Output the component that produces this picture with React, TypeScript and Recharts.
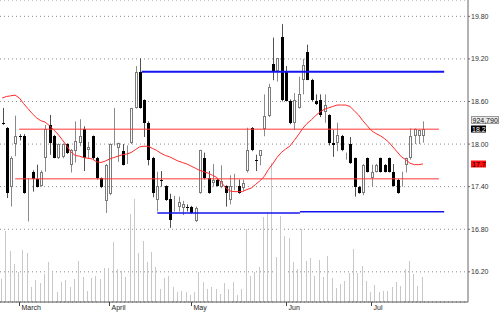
import { ComposedChart, Bar, Line, XAxis, YAxis, CartesianGrid, ReferenceLine } from 'recharts';

const FONT = '"Liberation Sans", Arial, sans-serif';
const SLOTS = 109;

const opens = [
  18.3, 18.22, 17.4, 18.0, 18.12, 18.12, 17.22, 17.61, 17.51, 17.41,
  17.81, 18.27, 18.12, 17.81, 17.82, 18.0, 17.71, 17.9, 18.02, 18.21,
  17.92, 18.11, 17.8, 17.52, 17.2, 17.3, 18.01, 17.95, 17.9, 17.84,
  18.01, 18.51, 19.02, 18.62, 18.3, 17.81, 17.21, 17.5, 17.41, 17.22,
  17.12, 17.12, 17.1, 17.12, 17.12, 16.91, 17.31, 17.81, 17.52, 17.45,
  17.5, 17.4, 17.41, 17.21, 17.45, 17.41, 17.38, 17.62, 18.23, 17.77,
  17.83, 18.21, 18.4, 19.13, 19.03, 19.51, 19.02, 18.61, 18.3, 18.51,
  18.9, 19.3, 18.9, 18.6, 18.62, 18.45, 18.41, 18.02, 18.01, 18.12,
  17.82, 18.0, 17.8, 17.4, 17.31, 17.8, 17.52, 17.61, 17.8, 17.71,
  17.8, 17.61, 17.5, 17.41, 17.71, 17.8, 18.12, 18.12, 18.12,
];
const highs = [
  18.51, 18.24, 17.83, 18.4, 18.14, 18.14, 17.52, 17.63, 17.71, 17.63,
  18.27, 18.41, 18.13, 18.01, 18.01, 18.01, 17.93, 18.32, 18.35, 18.25,
  18.03, 18.12, 17.82, 17.53, 17.72, 18.01, 18.51, 18.02, 18.0, 17.98,
  18.51, 19.1, 19.21, 18.63, 18.32, 17.82, 17.61, 17.62, 17.42, 17.3,
  17.27, 17.26, 17.2, 17.15, 17.13, 17.12, 17.92, 17.88, 17.62, 17.72,
  17.52, 17.7, 17.42, 17.56, 17.58, 17.5, 17.5, 18.23, 18.24, 17.85,
  17.9, 18.7, 18.85, 19.5, 19.21, 19.69, 19.1, 18.63, 18.72, 18.95,
  19.2, 19.4, 18.92, 18.7, 18.7, 18.7, 18.42, 18.2, 18.3, 18.13,
  17.88, 18.1, 17.81, 17.41, 17.72, 17.81, 17.71, 17.72, 17.81, 17.72,
  17.81, 17.72, 17.51, 17.61, 17.81, 18.22, 18.22, 18.2, 18.32,
];
const lows = [
  18.27, 17.24, 17.12, 17.83, 18.05, 17.3, 16.91, 17.33, 17.39, 17.4,
  17.61, 17.85, 17.8, 17.79, 17.8, 17.86, 17.6, 17.74, 17.97, 17.62,
  17.8, 17.78, 17.5, 17.38, 17.03, 17.28, 17.98, 17.75, 17.7, 17.72,
  18.0, 18.5, 18.5, 18.1, 17.7, 17.25, 17.05, 17.4, 17.2, 16.82,
  17.05, 17.05, 17.0, 17.05, 17.02, 16.9, 17.3, 17.5, 17.3, 17.4,
  17.4, 17.38, 17.12, 17.15, 17.35, 17.3, 17.34, 17.6, 17.9, 17.62,
  17.7, 18.11, 18.38, 18.9, 18.88, 18.6, 18.6, 18.28, 18.2, 18.5,
  18.7, 18.9, 18.6, 18.55, 18.38, 18.3, 17.98, 17.82, 17.9, 17.9,
  17.78, 17.72, 17.26, 17.3, 17.28, 17.6, 17.4, 17.6, 17.6, 17.6,
  17.6, 17.4, 17.3, 17.4, 17.6, 17.78, 18.0, 18.0, 18.02,
];
const closes = [
  18.28, 17.31, 17.81, 18.12, 18.11, 17.31, 17.22, 17.51, 17.4, 17.61,
  18.21, 18.01, 17.81, 18.0, 18.0, 17.87, 17.92, 18.05, 18.11, 17.8,
  17.96, 17.8, 17.52, 17.4, 17.71, 18.0, 18.01, 18.01, 17.71, 17.86,
  18.51, 19.01, 18.51, 18.3, 17.78, 17.31, 17.41, 17.48, 17.21, 16.93,
  17.12, 17.18, 17.16, 17.11, 17.03, 17.1, 17.91, 17.52, 17.31, 17.5,
  17.41, 17.48, 17.31, 17.41, 17.46, 17.31, 17.45, 17.92, 17.92, 17.76,
  17.92, 18.4, 18.81, 19.03, 19.21, 18.62, 18.61, 18.3, 18.62, 18.7,
  19.12, 18.9, 18.62, 18.57, 18.41, 18.55, 18.01, 17.99, 18.13, 17.92,
  17.82, 17.73, 17.4, 17.31, 17.71, 17.61, 17.61, 17.71, 17.61, 17.61,
  17.61, 17.41, 17.31, 17.42, 17.8, 18.11, 18.21, 18.2, 18.21,
];
const volumes = [
  851000, 2627000, 1887000, 1406000, 1110000, 1924000, 1813000, 555000, 814000, 703000,
  1036000, 1480000, 1110000, 370000, 740000, 814000, 555000, 851000, 1517000, 925000,
  407000, 888000, 962000, 851000, 1258000, 1258000, 2220000, 1221000, 1147000, 925000,
  3256000, 3811000, 1813000, 2257000, 1480000, 1850000, 1295000, 481000, 888000, 962000,
  555000, 370000, 407000, 370000, 259000, 370000, 1110000, 740000, 481000, 555000,
  481000, 296000, 703000, 481000, 740000, 259000, 481000, 2701000, 962000, 1110000,
  1295000, 3145000, 3330000, 5143000, 1665000, 3182000, 2442000, 2368000, 1480000, 1221000,
  2701000, 1517000, 1628000, 962000, 1554000, 925000, 1702000, 888000, 518000, 666000,
  777000, 1073000, 1961000, 1073000, 1332000, 777000, 370000, 629000, 370000, 407000,
  407000, 555000, 740000, 592000, 1221000, 1517000, 1036000, 592000, 924790,
];
const ma20 = [
  18.65, 18.67, 18.68, 18.69, 18.65, 18.57, 18.5, 18.43, 18.37, 18.33,
  18.31, 18.26, 18.2, 18.14, 18.06, 17.98, 17.89, 17.84, 17.83, 17.81,
  17.8, 17.79, 17.75, 17.74, 17.76, 17.79, 17.81, 17.83, 17.85, 17.86,
  17.88, 17.92, 17.96, 17.97, 17.97, 17.94, 17.91, 17.87, 17.84, 17.82,
  17.79, 17.76, 17.74, 17.72, 17.69, 17.66, 17.63, 17.61, 17.59, 17.56,
  17.53, 17.46, 17.39, 17.34, 17.33, 17.33, 17.33, 17.36, 17.38, 17.43,
  17.48, 17.54, 17.64, 17.72, 17.81, 17.88, 17.93, 17.97, 18.05, 18.13,
  18.22, 18.29, 18.34, 18.4, 18.45, 18.49, 18.51, 18.53, 18.55, 18.55,
  18.55, 18.53, 18.47, 18.41, 18.33, 18.26, 18.19, 18.15, 18.12, 18.08,
  18.03, 17.96, 17.89, 17.82, 17.78, 17.73, 17.71, 17.71, 17.72,
];

const monthTickIdx = [4, 25, 44, 66, 86];
const monthNames = ['March', 'April', 'May', 'Jun', 'Jul'];
const priceTicks = [16.2, 16.8, 17.4, 18.0, 18.6, 19.2, 19.8];

// horizontal levels, x in trading-day units
const levelKinds = ['blue', 'red', 'red', 'blueThin', 'blueThin'];
const levelPrices = [19.02, 18.21, 17.51, 17.03, 17.045];
const levelFrom = [32.7, 4.4, 3.5, 36.3, 69.2];
const levelTo = [102.5, 101.3, 101.3, 69.2, 102.5];

const LEVEL_STYLE: Record<string, { color: string; width: number }> = {
  blue: { color: '#1414f0', width: 2 },
  blueThin: { color: '#1414f0', width: 1.5 },
  red: { color: '#ff3838', width: 1 },
};

const last = closes.length - 1;
const rows = Array.from({ length: SLOTS }, (_, i) => ({
  i,
  open: opens[i],
  high: highs[i],
  low: lows[i],
  close: closes[i],
  volume: volumes[i],
  ma: ma20[i],
}));

function Candle(props: any) {
  const { x, y, width, height, payload } = props;
  if (!payload || payload.open == null) return <g />;
  const { open, high, low, close } = payload;
  const top = Math.min(y, y + height);
  const bottom = Math.max(y, y + height);
  const span = high - low || 1;
  const toY = (v: number) => bottom - ((v - low) / span) * (bottom - top);
  const cx = Math.round(x + width / 2) + 0.5;
  const up = close >= open;
  const bTop = Math.round(Math.min(toY(open), toY(close)));
  const bBot = Math.round(Math.max(toY(open), toY(close)));
  if (up) {
    return (
      <g>
        <line x1={cx} x2={cx} y1={top} y2={bottom} stroke="#8a8a8a" />
        <rect x={cx - 1} y={bTop + 0.5} width={2} height={Math.max(bBot - bTop - 1, 0)} fill="#fff" stroke="#7a7a7a" />
      </g>
    );
  }
  return (
    <g>
      <line x1={cx} x2={cx} y1={top} y2={bottom} stroke="#505050" />
      <rect x={cx - 1.5} y={bTop} width={3} height={Math.max(bBot - bTop, 1)} fill="#000" />
    </g>
  );
}

function VolumeBar(props: any) {
  const { x, y, width, height } = props;
  if (!height) return <g />;
  return <rect x={Math.round(x + width / 2) - 1} y={y} width={1} height={height} fill="#c8c8c8" />;
}

function MonthTick(props: any) {
  const { x, y, payload } = props;
  const at = monthTickIdx.indexOf(payload.value);
  if (at < 0) return <g />;
  const px = Math.round(x) + 0.5;
  return (
    <g>
      <line x1={px} x2={px} y1={y} y2={y + 4} stroke="#444" />
      <text x={px + 2} y={y + 8} fontSize={7} fontFamily={FONT} fill="#222">
        {monthNames[at]}
      </text>
    </g>
  );
}

function CloseBadge(props: any) {
  const { viewBox } = props;
  const bx = viewBox.x + viewBox.width + 3;
  const cy = Math.round(viewBox.y);
  return (
    <g fontFamily={FONT} fontSize={7}>
      <rect x={bx + 0.5} y={cy - 12.5} width={27} height={7} fill="#e8e8e8" stroke="#9a9a9a" />
      <text x={bx + 1.5} y={cy - 9} dominantBaseline="central" fill="#111">
        {volumes[last].toLocaleString('en-US')}
      </text>
      <rect x={bx} y={cy - 3.5} width={15} height={7} fill="#000" />
      <text x={bx + 1} y={cy} dominantBaseline="central" fill="#fff">
        {closes[last].toFixed(1)}
      </text>
    </g>
  );
}

function MaBadge(props: any) {
  const { viewBox } = props;
  const bx = viewBox.x + viewBox.width + 3;
  const cy = Math.round(viewBox.y);
  return (
    <g fontFamily={FONT} fontSize={7}>
      <rect x={bx} y={cy - 3.5} width={15} height={7} fill="#ff1010" />
      <text x={bx + 1} y={cy} dominantBaseline="central" fill="#000">
        {ma20[last].toFixed(1)}
      </text>
    </g>
  );
}

export default function App() {
  return (
    <div style={{ position: 'absolute', left: 0, top: 0 }}>
      <ComposedChart width={500} height={312} data={rows} margin={{ top: 0, right: 0, bottom: 0, left: 0 }}>
        <CartesianGrid xAxisId="main" yAxisId="price" vertical={false} stroke="#8c8c8c" strokeDasharray="1 3" />
        <XAxis
          xAxisId="main"
          dataKey="i"
          interval={0}
          height={10}
          tickLine={false}
          tickSize={0}
          tickMargin={0}
          axisLine={{ stroke: '#555' }}
          tick={MonthTick}
        />
        <XAxis xAxisId="vol" dataKey="i" hide />
        <XAxis xAxisId="num" type="number" domain={[0, SLOTS]} allowDataOverflow hide />
        <YAxis
          yAxisId="price"
          orientation="right"
          domain={[15.775, 20.03]}
          ticks={priceTicks}
          interval={0}
          allowDataOverflow
          width={32}
          tickSize={2}
          tickMargin={1}
          axisLine={{ stroke: '#666' }}
          tickLine={{ stroke: '#666' }}
          tick={{ fill: '#333', fontSize: 7, fontFamily: FONT }}
          tickFormatter={(v: number) => v.toFixed(2)}
        />
        <YAxis yAxisId="vol" domain={[0, 11174000]} allowDataOverflow hide />
        <Bar xAxisId="vol" yAxisId="vol" dataKey="volume" shape={VolumeBar} isAnimationActive={false} />
        <Bar
          xAxisId="main"
          yAxisId="price"
          dataKey={(d: any) => (d.high == null ? null : [d.low, d.high])}
          barSize={3}
          shape={Candle}
          isAnimationActive={false}
        />
        <Line
          xAxisId="main"
          yAxisId="price"
          dataKey="ma"
          type="linear"
          stroke="#ff2a2a"
          strokeWidth={1}
          dot={false}
          activeDot={false}
          isAnimationActive={false}
        />
        {levelPrices.map((p, k) => (
          <ReferenceLine
            key={k}
            xAxisId="num"
            yAxisId="price"
            segment={[
              { x: levelFrom[k], y: p },
              { x: levelTo[k], y: p },
            ]}
            stroke={LEVEL_STYLE[levelKinds[k]].color}
            strokeWidth={LEVEL_STYLE[levelKinds[k]].width}
            ifOverflow="visible"
          />
        ))}
        <ReferenceLine xAxisId="main" yAxisId="price" y={closes[last]} stroke="none" label={CloseBadge} />
        <ReferenceLine xAxisId="main" yAxisId="price" y={ma20[last]} stroke="none" label={MaBadge} />
      </ComposedChart>
    </div>
  );
}
